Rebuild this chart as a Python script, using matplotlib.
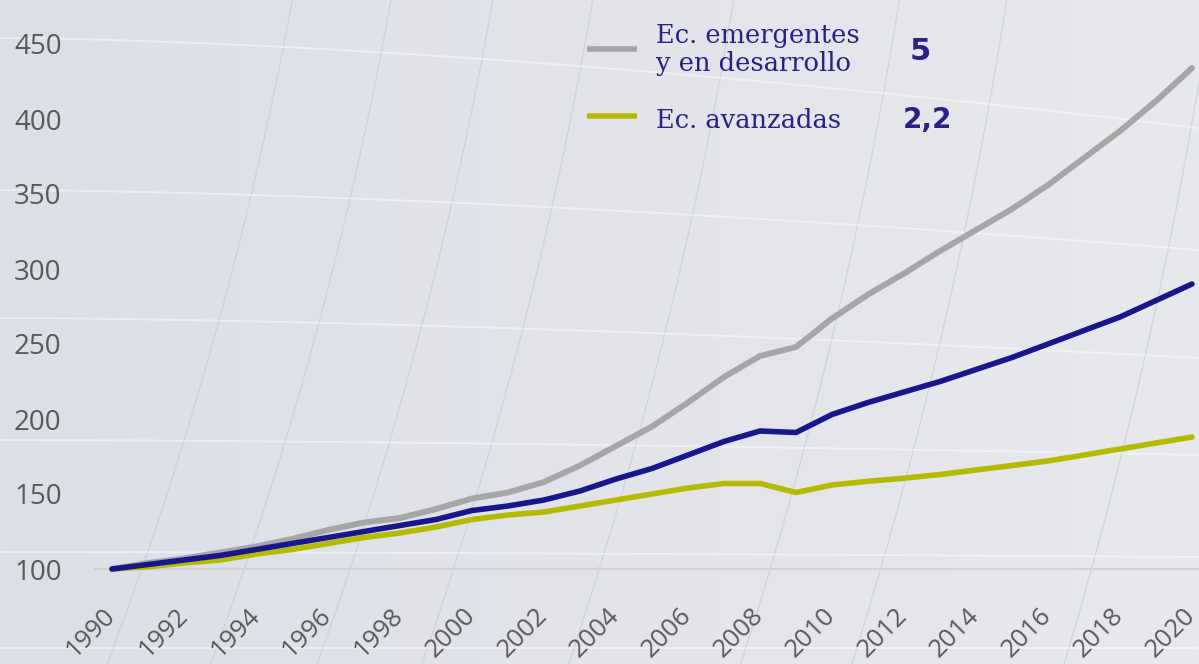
import matplotlib
matplotlib.use("Agg")
import matplotlib.pyplot as plt
import numpy as np

# index 1990 = 100
years = list(range(1990, 2021))
emergentes = [100, 104, 107, 111, 115, 120, 126, 131, 134, 140, 147, 151, 158, 169, 182, 195,
              211, 228, 242, 248, 267, 283, 297, 312, 326, 340, 356, 374, 392, 412, 434]
mundo = [100, 103, 106, 109, 113, 117, 121, 125, 129, 133, 139, 142, 146, 152, 160, 167,
         176, 185, 192, 191, 203, 211, 218, 225, 233, 241, 250, 259, 268, 279, 290]
avanzadas = [100, 101.5, 104, 106, 110, 113, 117, 121, 124, 128, 133, 136, 138, 142, 146, 150,
             154, 157, 157, 151, 156, 158.5, 160.5, 163, 166, 169, 172, 176, 180, 184, 188]

yticks = [100, 150, 200, 250, 300, 350, 400, 450]
xticks = list(range(1990, 2021, 2))

legend_labels = [["Ec. emergentes", "y en desarrollo"], ["Ec. avanzadas"]]
legend_values = ["5", "2,2"]
top_value = "3,6"

c_grey = "#a6a6a6"
c_blue = "#17168c"
c_yel = "#b3ba00"
c_txt = "#2c1f86"

W, H = 1199, 664
fig = plt.figure(figsize=(W / 100, H / 100), dpi=100)
fig.patch.set_facecolor("#e3e5ea")

# decorative background (gradient + faint arcs)
bg = fig.add_axes([0, 0, 1, 1], zorder=0)
bg.set_xlim(0, W)
bg.set_ylim(H, 0)
bg.axis("off")
grad = np.linspace(0, 1, 256).reshape(1, -1)
bg.imshow(grad, extent=[0, W, H, 0], aspect="auto",
          cmap=matplotlib.colors.LinearSegmentedColormap.from_list("g", ["#dcdfe6", "#e2e4ea", "#e7e9ed"]))
cx, cy = -3500, -700
t = np.linspace(0, 0.6, 500)
for xc in [165, 267, 372, 475, 620, 790, 900, 1110]:
    r = np.hypot(xc - cx, 500 - cy)
    bg.plot(cx + r * np.cos(t), cy + r * np.sin(t), color="#c6cad4", lw=1.0, alpha=0.6)
xx = np.linspace(0, W, 200)
for y0, bend in [(38, 90), (190, 60), (318, 40), (440, 15), (552, 5), (648, 0)]:
    bg.plot(xx, y0 + bend * (xx / W) ** 1.6, color="white", lw=1.4, alpha=0.45)

# main chart
ax = fig.add_axes([95 / W, (H - 569) / H, (W - 95) / W, 569 / H], zorder=1)
ax.patch.set_alpha(0)
kw = dict(solid_capstyle="round", solid_joinstyle="round", clip_on=False)
ax.plot(years, emergentes, color=c_grey, lw=4.3, zorder=3, **kw)
ax.plot(years, avanzadas, color=c_yel, lw=4.0, zorder=4, **kw)
ax.plot(years, mundo, color=c_blue, lw=4.0, zorder=5, **kw)

ax.set_xlim(1990 - 17 / 36, 2020 + 7 / 36)
ax.set_ylim(100, 100 + 569 / 1.5)
ax.set_yticks(yticks)
ax.set_yticklabels([str(v) for v in yticks], fontsize=20, color="#595959", family="Open Sans")
ax.set_xticks(xticks)
ax.set_xticklabels([str(v) for v in xticks], fontsize=18.5, color="#595959", family="Open Sans",
                   rotation=45, ha="right", va="center", rotation_mode="anchor")
ax.tick_params(axis="y", length=0, pad=24)
ax.tick_params(axis="x", length=0, pad=31)
for s in ["top", "right", "left"]:
    ax.spines[s].set_visible(False)
ax.spines["bottom"].set_color("#d2d2d2")
ax.spines["bottom"].set_linewidth(1.6)
ax.spines["bottom"].set_zorder(2)


def px(x, y):
    return x / W, 1 - y / H


# legend drawn by hand in figure coords
for (y, col) in [(49, c_grey), (116, c_yel)]:
    x0, yy = px(587, y)
    x1, _ = px(637, y)
    fig.add_artist(plt.Line2D([x0, x1], [yy, yy], color=col, lw=4, solid_capstyle="butt",
                              transform=fig.transFigure, zorder=6))

fig.text(*px(656, 43), legend_labels[0][0], fontsize=18.5, family="DejaVu Serif", color=c_txt,
         ha="left", va="baseline", zorder=6)
fig.text(*px(656, 71), legend_labels[0][1], fontsize=18.5, family="DejaVu Serif", color=c_txt,
         ha="left", va="baseline", zorder=6)
fig.text(*px(656, 128), legend_labels[1][0], fontsize=18.5, family="DejaVu Serif", color=c_txt,
         ha="left", va="baseline", zorder=6)
fig.text(*px(920, 60), legend_values[0], fontsize=22, family="DejaVu Sans", weight="bold",
         color=c_txt, ha="center", va="baseline", zorder=6)
fig.text(*px(927, 128), legend_values[1], fontsize=20, family="DejaVu Sans", weight="bold",
         color=c_txt, ha="center", va="baseline", zorder=6)
fig.text(*px(918, -4), top_value, fontsize=20, family="DejaVu Sans", weight="bold",
         color=c_txt, ha="center", va="baseline", zorder=6)

fig.savefig("out.png", dpi=100, facecolor=fig.get_facecolor())
